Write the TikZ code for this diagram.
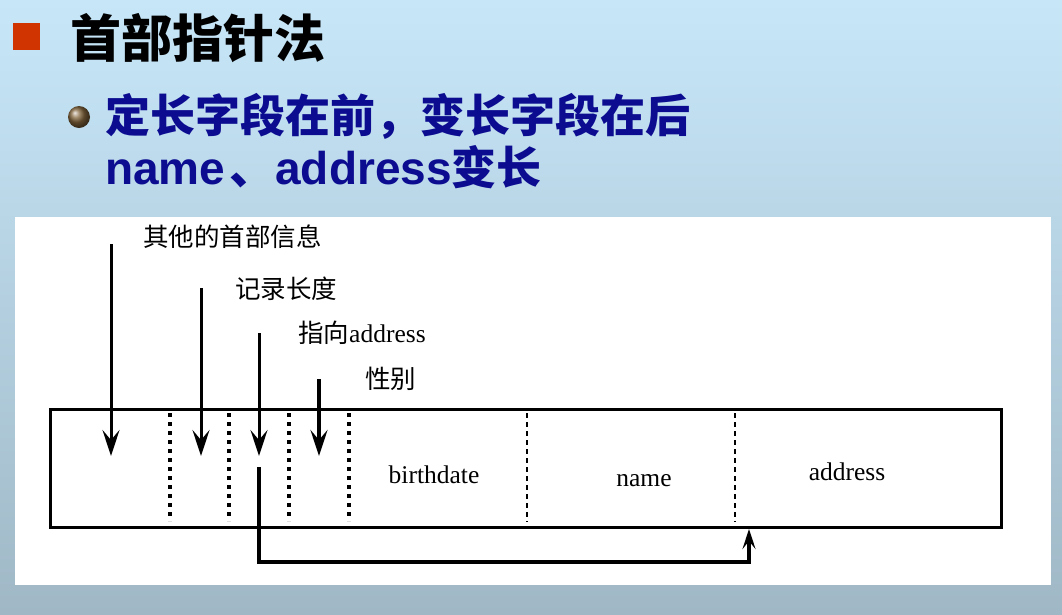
\documentclass[tikz,border=0pt]{standalone}
\usepackage{fontspec}
\setmainfont{Liberation Serif}
\newfontfamily\cjk{Noto Sans CJK SC}
\newfontfamily\sansb{Liberation Sans Bold}
\usetikzlibrary{arrows.meta}
\definecolor{bgtop}{RGB}{199,231,249}
\definecolor{bgbot}{RGB}{160,184,198}
\definecolor{bulletred}{RGB}{208,52,0}
\definecolor{navy}{RGB}{12,12,144}
\definecolor{bronze}{RGB}{130,100,60}
\tikzset{
  rec/.style={line width=3pt},
  dotsep/.style={line width=3.2pt, dash pattern=on 4pt off 5pt},
  dashsep/.style={line width=2.4pt, dash pattern=on 5pt off 4pt},
  arr/.style={line width=3pt, -{Stealth[length=26pt,width=17pt,inset=10pt]}},
  parr/.style={line width=3.2pt, -{Stealth[length=20pt,width=13pt,inset=8pt]}},
  lbl/.style={inner sep=0pt, anchor=base west, font=\fontsize{25.5}{30}\selectfont},
  fld/.style={inner sep=0pt, anchor=base, font=\fontsize{25.5}{30}\selectfont},
}
\begin{document}
\begin{tikzpicture}[x=1pt,y=-1pt]
\useasboundingbox (0,0) rectangle (1062,614);
\shade[top color=bgtop, bottom color=bgbot] (0,0) rectangle (1062,614);
% header
\fill[bulletred] (13,23) rectangle (40,50);
\node[inner sep=0pt, anchor=base west, font=\cjk\bfseries\fontsize{51}{56}\selectfont] (title) at (70,57) {首部指针法};
\shade[ball color=bronze] (79,117) circle (11);
\node[inner sep=0pt, anchor=base west, text=navy, font=\cjk\bfseries\fontsize{45}{50}\selectfont] (line1) at (105,132) {定长字段在前，变长字段在后};
\node[inner sep=0pt, anchor=base west, text=navy, font=\fontsize{46}{50}\selectfont] (line2) at (105,184) {{\sansb name}\hspace{4pt}{\cjk\bfseries 、}{\sansb address}{\cjk\bfseries\fontsize{45}{50}\selectfont 变长}};
% panel
\fill[white] (15,217) rectangle (1051,585);
% record
\coordinate (rtl) at (50,409);
\coordinate (rbr) at (1001,527);
\draw[rec] (rtl) rectangle (rbr);
\foreach \x in {170,229,289,349} \draw[dotsep] (\x,413) -- (\x,521);
\foreach \x in {527,735} \draw[dashsep] (\x,413) -- (\x,522);
% arrows
\coordinate (a1s) at (111,244); \coordinate (a1e) at (111,456);
\coordinate (a2s) at (201,288); \coordinate (a2e) at (201,456);
\coordinate (a3s) at (259,333); \coordinate (a3e) at (259,456);
\coordinate (a4s) at (319,379); \coordinate (a4e) at (319,456);
\draw[arr] (a1s) -- (a1e);
\draw[arr] (a2s) -- (a2e);
\draw[arr] (a3s) -- (a3e);
\draw[arr, line width=3.6pt] (a4s) -- (a4e);
% pointer to address
\coordinate (p0) at (259,467);
\coordinate (pc) at (749,562);
\coordinate (p1) at (749,529);
\draw[parr] (p0) |- (pc) -- (p1);
% labels
\node[lbl] (l1) at (143,246) {\cjk 其他的首部信息};
\node[lbl] (l2) at (235,298) {\cjk 记录长度};
\node[lbl] (l3) at (298,342) {{\cjk 指向}address};
\node[lbl] (l4) at (365,388) {\cjk 性别};
% fields
\node[fld] (f1) at (434,483) {birthdate};
\node[fld] (f2) at (644,486) {name};
\node[fld] (f3) at (847,480) {address};
\end{tikzpicture}
\end{document}
